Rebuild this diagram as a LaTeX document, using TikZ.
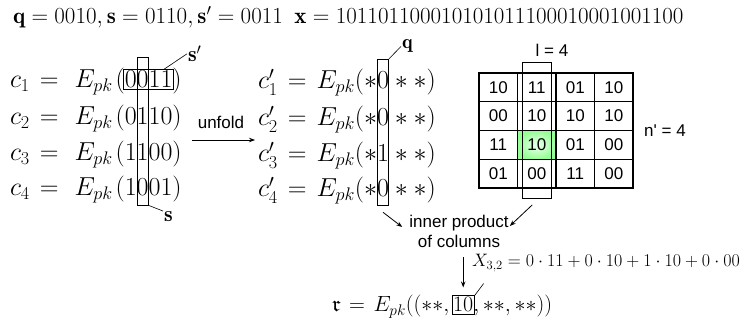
\RequirePackage{fix-cm}
\documentclass[tikz,border=0pt]{standalone}
\usepackage{amssymb}
\usepackage{fontspec}
\newfontfamily\hv{Liberation Sans}
\usetikzlibrary{arrows.meta,fit,calc}
\begin{document}
\begin{tikzpicture}[x=1pt,y=-1pt,
  pc/.style={inner sep=0pt,outer sep=0pt,anchor=base west},
  big/.style={font=\fontsize{26}{30}\selectfont},
  mid/.style={font=\fontsize{22}{26}\selectfont},
  sml/.style={font=\fontsize{18}{21}\selectfont},
  sf/.style={font=\hv\fontsize{17}{20}\selectfont},
  thinbox/.style={draw,line width=0.7pt,inner sep=0pt},
  lbl/.style={line width=0.6pt},
  arr/.style={line width=0.8pt,-{Stealth[length=6pt,width=4.5pt]}},
  cell/.style={draw,line width=1.1pt,minimum width=38.5pt,minimum height=28.75pt,inner sep=0pt,sf}]
\useasboundingbox (0,0) rectangle (747,320);

% top line
\node[pc,font=\fontsize{23}{27}\selectfont] (top) at (13,24) {$\mathbf{q} = 0010, \mathbf{s} = 0110, \mathbf{s}' = 0011\enspace \mathbf{x} = 101101100010101011100010001001100$};

% left equations
\foreach \i/\da/\db/\dc/\dd/\y in {1/0/0/1/1/88,2/0/1/1/0/125,3/1/1/0/0/161,4/1/0/0/1/196}{
  \node[pc,big] (c\i-0) at (10,\y) {$c_{\i}\mkern2mu=\mkern6mu E_{pk}\mkern2mu($};
  \node[pc,big] (c\i-1) at (c\i-0.base east) {$\da$};
  \node[pc,big] (c\i-2) at (c\i-1.base east) {$\db$};
  \node[pc,big] (c\i-3) at (c\i-2.base east) {$\dc$};
  \node[pc,big] (c\i-4) at (c\i-3.base east) {$\dd$};
  \node[pc,big] (c\i-5) at (c\i-4.base east) {$)$};
}
\node[thinbox,fit=(c1-1)(c1-4),inner xsep=1pt,inner ysep=1.5pt] (rowbox) {};
\coordinate (sct) at ($(c1-2.north)+(0,14pt)$);
\coordinate (scb) at ($(c4-2.south)+(0,-9pt)$);
\node[thinbox,fit=(sct)(scb),minimum width=11pt] (scol) {};
\node[pc,mid,inner sep=1pt] (sp) at (187,62) {$\mathbf{s}'$};
\draw[lbl] ([xshift=-10pt]rowbox.north east) -- (sp.west);
\node[pc,mid,inner sep=1pt] (sl) at (163,222) {$\mathbf{s}$};
\draw[lbl] (scol.south east) -- (sl.north west);

% unfold
\coordinate (ua) at (192,140);
\coordinate (ub) at (255,140);
\draw[arr] (ua) -- (ub);
\node[sf] (uf) at (221,122) {unfold};

% right equations
\foreach \i/\d/\y in {1/0/89,2/0/126,3/1/162,4/0/197}{
  \node[pc,big] (d\i-0) at (258,\y) {$c'_{\i}\mkern2mu=\mkern2mu E_{pk}(*$};
  \node[pc,big] (d\i-1) at (d\i-0.base east) {$\d$};
  \node[pc,big] (d\i-2) at (d\i-1.base east) {${}*{*})$};
}
\coordinate (qct) at ($(d1-1.north)+(0,13pt)$);
\coordinate (qcb) at ($(d4-1.south)+(0,-8pt)$);
\node[thinbox,fit=(qct)(qcb),minimum width=11pt] (qcol) {};
\node[pc,font=\fontsize{20}{24}\selectfont,inner sep=1pt] (ql) at (401,49) {$\mathbf{q}$};
\draw[lbl] (qcol.north east) -- (ql.west);

% grid
\node[minimum width=38.5pt,minimum height=28.75pt,inner sep=0pt,shading=radial,inner color=green!6,outer color=green!42] (hl) at ({479+38.5*1.5},{73+28.75*2.5}) {};
\foreach \v [count=\k from 0] in {10,11,01,10,00,10,10,10,11,10,01,00,01,00,11,00}{
  \pgfmathtruncatemacro\rr{div(\k,4)+1}
  \pgfmathtruncatemacro\cc{mod(\k,4)+1}
  \node[cell] (g\rr\cc) at ({479+38.5*(\cc-0.5)},{73+28.75*(\rr-0.5)}) {\v};
}
\coordinate (gct) at ($(g12.north)+(0,10pt)$);
\coordinate (gcb) at ($(g42.south)+(0,-10pt)$);
\node[thinbox,fit=(gct)(gcb),minimum width=29pt] (gcol) {};
\node[sf] (lab) at (552,50) {l = 4};
\node[sf] (nlab) at (665,131) {n\textquotesingle{} = 4};

% inner product
\node[sf,align=center,inner sep=0pt] (ip) at (459,231) {inner product\\of columns};
\draw[arr] ($(qcol.south)+(0,-7pt)$) -- ($(ip.west)+(-7pt,4pt)$);
\draw[arr] ($(gcol.south)+(-4.5pt,-6pt)$) -- ($(ip.east)+(1pt,5pt)$);

% result
\node[pc,mid] (r1) at (332,312) {$\mathfrak{r}\mkern2mu=\mkern2mu E_{pk}((**,\,$};
\node[pc,mid] (r2) at (r1.base east) {$10$};
\node[pc,mid] (r3) at (r2.base east) {$,**,**))$};
\node[thinbox,fit=(r2),inner xsep=1pt,inner ysep=2pt] (rbox) {};
\draw[arr] ($(ip.south -| rbox.north)+(0,-10pt)$) -- ($(rbox.north)+(0,8pt)$);
\node[pc,sml] (xl) at (472,267) {$X_{3,2} = 0\cdot 11 + 0\cdot 10 + 1\cdot 10 + 0\cdot 00$};
\coordinate (xt) at ($(rbox.north east)+(9pt,12pt)$);
\draw[lbl] (rbox.north east) -- (xt);
\end{tikzpicture}
\end{document}
